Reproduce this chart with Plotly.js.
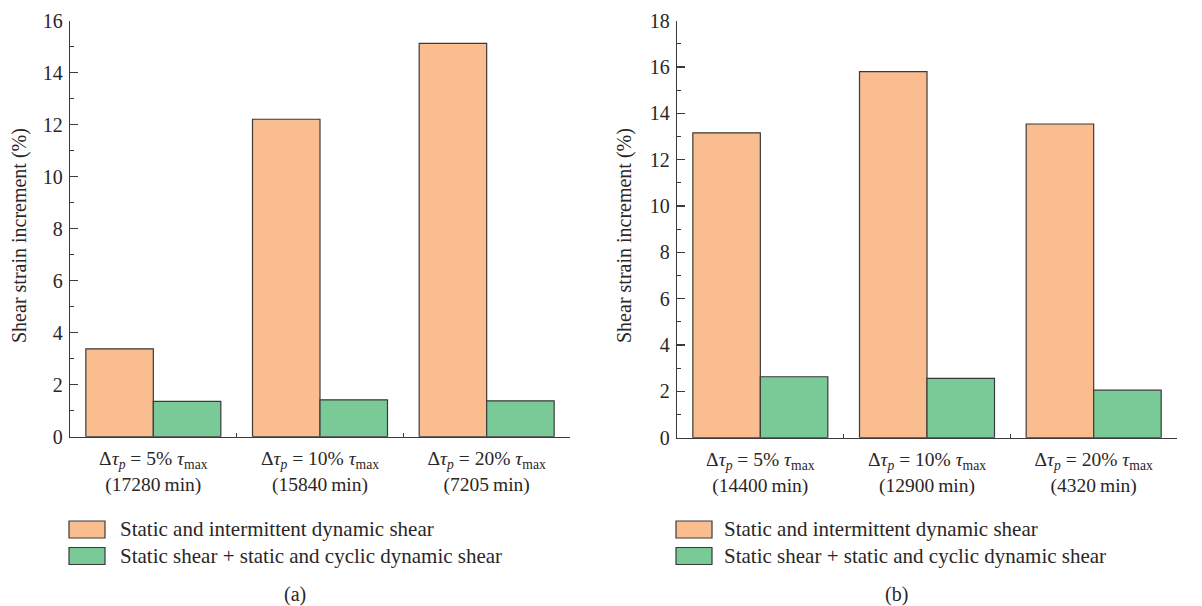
<!DOCTYPE html>
<html>
<head>
<meta charset="utf-8">
<script src="https://cdn.plot.ly/plotly-3.0.1.min.js"></script>
<style>
  html, body { margin: 0; padding: 0; background: #ffffff; }
  #chart { width: 1202px; height: 606px; }
</style>
</head>
<body>
<div id="chart"></div>
<script>
// Load increments (%) per loading amplitude, two test groups (a) and (b)
const amplitudes = ['5%', '10%', '20%'];
const durationsA = ['17280', '15840', '7205'];
const durationsB = ['14400', '12900', '4320'];

const seriesNames = [
  'Static and intermittent dynamic shear',
  'Static shear + static and cyclic dynamic shear'
];

const intermittentA = [3.38, 12.21, 15.13];
const cyclicA = [1.36, 1.42, 1.38];
const intermittentB = [13.16, 15.80, 13.54];
const cyclicB = [2.63, 2.56, 2.05];

const yTitle = 'Shear strain increment (%)';
const panelCaptions = ['(a)', '(b)'];

const orange = '#f9bd8f';
const green = '#7aca98';
const ink = '#3a3a3a';
const textColor = '#2a2627';
const fontFamily = '"Liberation Serif", "DejaVu Serif", serif';

function categoryLabels(durations) {
  return amplitudes.map((a, i) =>
    'Δ<i>τ</i><sub><i>p</i></sub> = ' + a + ' <i>τ</i><sub>max</sub><br>(' +
    durations[i] + '\u2009min)');
}

const catsA = categoryLabels(durationsA);
const catsB = categoryLabels(durationsB);

function barTrace(cats, vals, color, name, xa, ya) {
  return {
    type: 'bar', x: cats, y: vals, name: name, xaxis: xa, yaxis: ya,
    marker: { color: color, line: { color: ink, width: 1.2 } },
    showlegend: false, hoverinfo: 'x+y'
  };
}

const data = [
  barTrace(catsA, intermittentA, orange, seriesNames[0], 'x', 'y'),
  barTrace(catsA, cyclicA, green, seriesNames[1], 'x', 'y'),
  barTrace(catsB, intermittentB, orange, seriesNames[0], 'x2', 'y2'),
  barTrace(catsB, cyclicB, green, seriesNames[1], 'x2', 'y2')
];

const W = 1202, H = 606;
const px = v => v / W;
const py = v => 1 - v / H;

function xAxis(domain, anchor) {
  return {
    domain: domain, anchor: anchor, type: 'category',
    showline: true, linecolor: ink, linewidth: 1.3,
    ticks: 'inside', tickson: 'boundaries', ticklen: 4, tickwidth: 1.2, tickcolor: ink,
    tickfont: { family: fontFamily, size: 19.5, color: textColor },
    ticklabelstandoff: 4,
    showgrid: false, zeroline: false, automargin: false, fixedrange: true
  };
}

function yAxis(domain, anchor, maxVal) {
  return {
    domain: domain, anchor: anchor, range: [0, maxVal], dtick: 2, tick0: 0,
    showline: true, linecolor: ink, linewidth: 1.3,
    ticks: 'inside', ticklen: 8, tickwidth: 1.3, tickcolor: ink,
    minor: { ticks: 'inside', ticklen: 4, dtick: 1, tick0: 0, tickwidth: 1.2, tickcolor: ink, showgrid: false },
    tickfont: { family: fontFamily, size: 20, color: textColor },
    ticklabelstandoff: 2,
    showgrid: false, zeroline: false, automargin: false, fixedrange: true
  };
}

const shapes = [];
const annotations = [];

// Legend blocks and captions under each panel
const legendX = [69, 676];
const legendTextX = [118, 722];
const captionX = [295, 896];
[0, 1].forEach(p => {
  [orange, green].forEach((c, r) => {
    const top = 521 + r * 26.5;
    shapes.push({
      type: 'rect', xref: 'paper', yref: 'paper',
      x0: px(legendX[p]), x1: px(legendX[p] + 36),
      y0: py(top + 17), y1: py(top),
      fillcolor: c, line: { color: ink, width: 1.2 }
    });
    annotations.push({
      xref: 'paper', yref: 'paper', x: px(legendTextX[p]), y: py(top + 8),
      xanchor: 'left', yanchor: 'middle', showarrow: false,
      text: seriesNames[r], font: { family: fontFamily, size: 21, color: textColor }
    });
  });
  annotations.push({
    xref: 'paper', yref: 'paper', x: px(captionX[p]), y: py(594),
    xanchor: 'center', yanchor: 'middle', showarrow: false,
    text: panelCaptions[p], font: { family: fontFamily, size: 20, color: textColor }
  });
});

// Rotated y-axis titles
[19, 624].forEach(xp => {
  annotations.push({
    xref: 'paper', yref: 'paper', x: px(xp), y: py(236),
    xanchor: 'center', yanchor: 'middle', showarrow: false, textangle: -90,
    text: yTitle, font: { family: fontFamily, size: 20, color: textColor }
  });
});

const layout = {
  width: W, height: H,
  margin: { l: 0, r: 0, t: 0, b: 0 },
  paper_bgcolor: '#ffffff', plot_bgcolor: '#ffffff',
  barmode: 'group', bargap: 0.19, bargroupgap: 0,
  showlegend: false,
  font: { family: fontFamily, size: 20, color: textColor },
  xaxis: xAxis([px(70), px(570)], 'y'),
  yaxis: yAxis([py(436.7), py(20.7)], 'x', 16),
  xaxis2: xAxis([px(677), px(1177)], 'y2'),
  yaxis2: yAxis([py(437.7), py(20.7)], 'x2', 18),
  shapes: shapes,
  annotations: annotations
};

Plotly.newPlot('chart', data, layout, { displayModeBar: false, staticPlot: true });
</script>
</body>
</html>
